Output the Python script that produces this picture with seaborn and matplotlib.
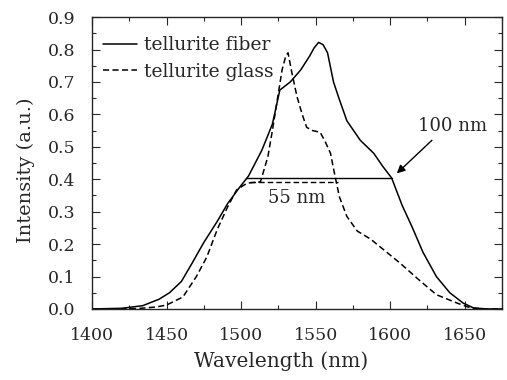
import numpy as np
import pandas as pd
import matplotlib
matplotlib.use("Agg")
import matplotlib.pyplot as plt
import seaborn as sns
from matplotlib.ticker import MultipleLocator

# spectra
fiber_wl = [1400, 1420, 1434, 1445, 1452, 1460, 1467, 1475, 1484, 1491, 1499, 1505,
            1514, 1521, 1526, 1533, 1540, 1546, 1549, 1552, 1555, 1558, 1562, 1566,
            1571, 1580, 1589, 1595, 1601, 1608, 1615, 1622, 1631, 1640, 1649, 1656,
            1665, 1675]
fiber_int = [0.0, 0.002, 0.01, 0.03, 0.05, 0.085, 0.14, 0.205, 0.27, 0.325, 0.375, 0.41,
             0.49, 0.57, 0.675, 0.70, 0.737, 0.78, 0.805, 0.822, 0.815, 0.79, 0.70, 0.645,
             0.58, 0.52, 0.48, 0.44, 0.404, 0.32, 0.25, 0.175, 0.10, 0.05, 0.018, 0.003,
             0.0, 0.0]

glass_wl = [1400, 1430, 1443, 1450, 1461, 1470, 1477, 1484, 1491, 1497, 1504, 1513,
            1518, 1521, 1525, 1527.5, 1530, 1531.5, 1534, 1537.5, 1541, 1544, 1548,
            1553, 1556, 1560, 1563, 1566, 1571, 1578, 1587, 1595, 1607, 1618, 1631,
            1645, 1654, 1665, 1675]
glass_int = [0.0, 0.001, 0.006, 0.012, 0.037, 0.1, 0.16, 0.245, 0.315, 0.367, 0.388, 0.392,
             0.47, 0.55, 0.665, 0.737, 0.78, 0.79, 0.73, 0.655, 0.60, 0.56, 0.55,
             0.545, 0.52, 0.48, 0.41, 0.345, 0.285, 0.24, 0.215, 0.185, 0.14, 0.095, 0.044,
             0.018, 0.003, 0.0, 0.0]

# FWHM markers
fiber_fwhm = [1503, 1601]
fiber_half = 0.404
glass_fwhm = [1506, 1565]
glass_half = 0.392

fiber = pd.DataFrame({"Wavelength": fiber_wl, "Intensity": fiber_int})
glass = pd.DataFrame({"Wavelength": glass_wl, "Intensity": glass_int})

sns.set_style("ticks")
plt.rcParams["font.family"] = ["DejaVu Serif"]

fig = plt.figure(figsize=(5.07, 3.80), dpi=100)
ax = fig.add_axes([0.1815, 0.187, 0.8085, 0.768])

dash = (0, (4, 2.2))
sns.lineplot(data=fiber, x="Wavelength", y="Intensity", ax=ax, color="black",
             lw=1.1, label="tellurite fiber")
sns.lineplot(data=glass, x="Wavelength", y="Intensity", ax=ax, color="black",
             lw=1.1, linestyle=dash, label="tellurite glass")

ax.plot(fiber_fwhm, [fiber_half, fiber_half], color="black", lw=1.0)
ax.plot(glass_fwhm, [glass_half, glass_half], color="black", lw=1.0, linestyle=dash)

ax.text(1537, 0.343, "55 nm", fontsize=13, ha="center", va="center")
ax.text(1642, 0.565, "100 nm", fontsize=13, ha="center", va="center")
ax.annotate("", xy=(1604.5, 0.418), xytext=(1628, 0.52),
            arrowprops=dict(arrowstyle="-|>", color="black", lw=1.0,
                            mutation_scale=12, shrinkA=0, shrinkB=0))

ax.set_xlim(1400, 1675)
ax.set_ylim(0, 0.9)
ax.xaxis.set_major_locator(MultipleLocator(50))
ax.xaxis.set_minor_locator(MultipleLocator(25))
ax.yaxis.set_major_locator(MultipleLocator(0.1))
ax.yaxis.set_minor_locator(MultipleLocator(0.05))
ax.tick_params(which="both", direction="in", top=True, right=True, width=0.8, labelsize=12.5)
ax.tick_params(which="major", length=6)
ax.tick_params(which="minor", length=3)
ax.tick_params(axis="x", which="major", pad=13)
ax.tick_params(axis="y", which="major", pad=12)
for s in ax.spines.values():
    s.set_linewidth(1.0)

ax.set_xlabel("Wavelength (nm)", fontsize=14.5, labelpad=5, x=0.461)
ax.set_ylabel("Intensity (a.u.)", fontsize=14, labelpad=9, y=0.476)

ax.legend(loc="upper left", bbox_to_anchor=(0.027, 0.935), frameon=False, fontsize=13.5,
          handlelength=1.8, handletextpad=0.4, borderaxespad=0, labelspacing=0.45,
          borderpad=0)

fig.savefig("out.png", dpi=100)
